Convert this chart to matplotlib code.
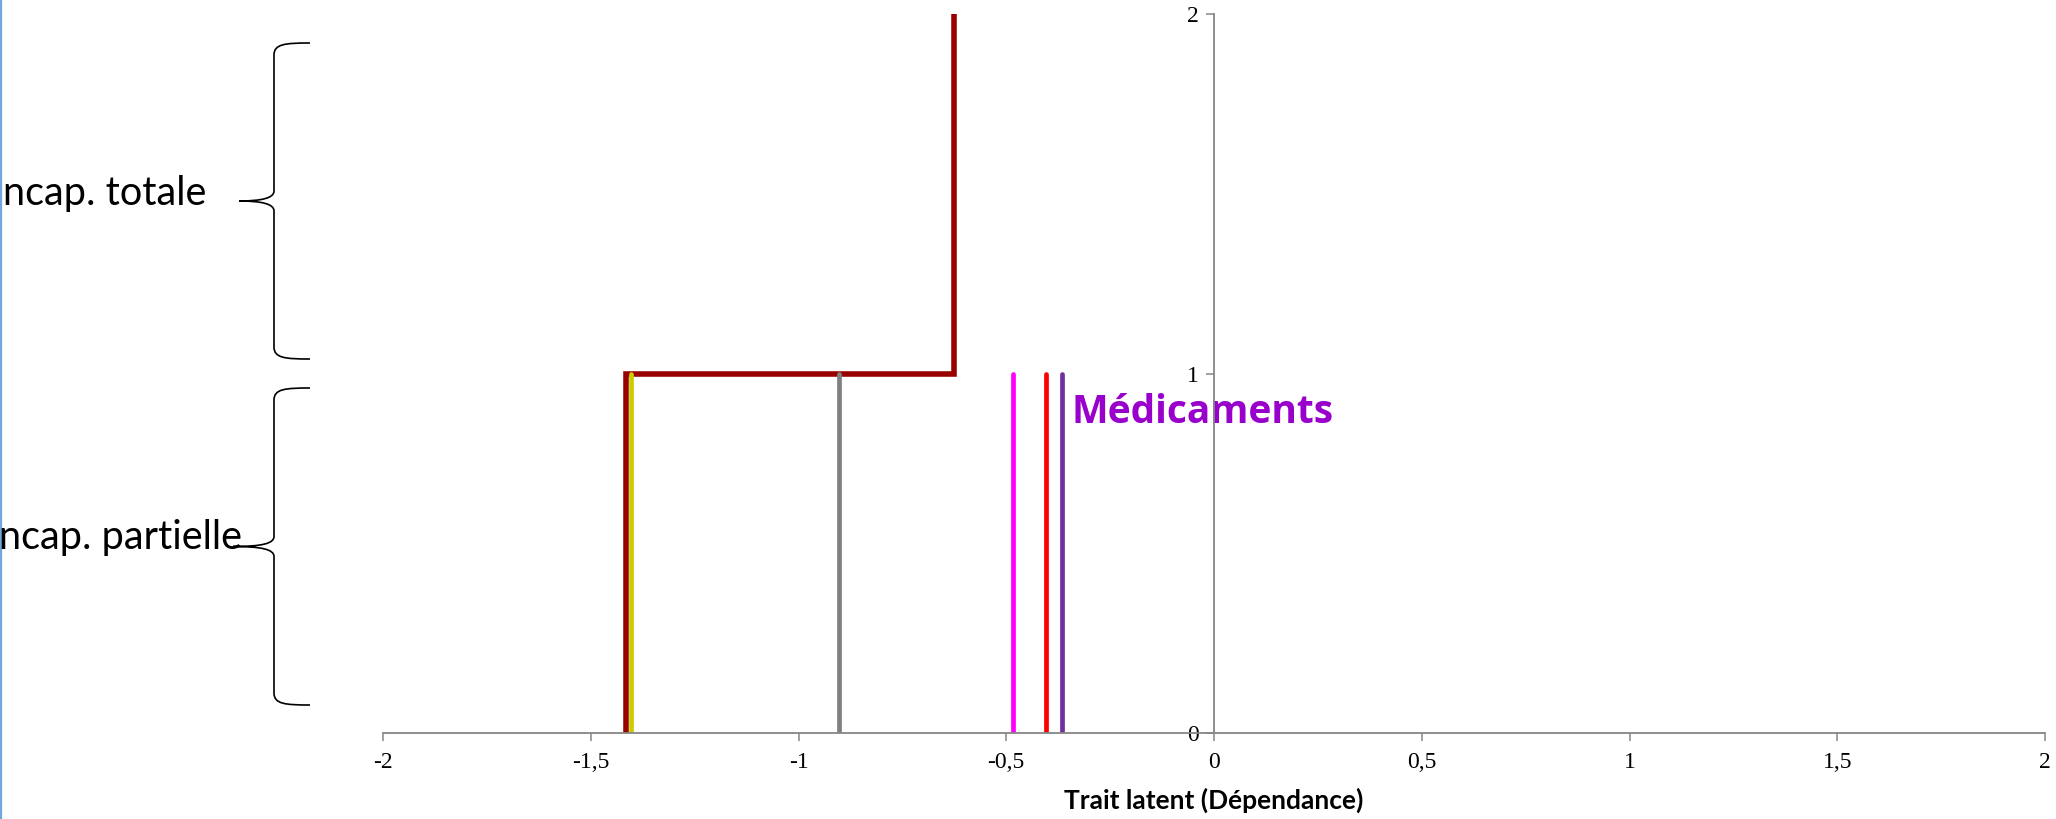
import matplotlib
matplotlib.use("Agg")
import matplotlib.pyplot as plt
from matplotlib.path import Path
from matplotlib.patches import PathPatch

# Step curve of the category thresholds (dark red)
step_x = [-1.414, -1.414, -0.625, -0.625]
step_y = [0, 1, 1, 2]

# Threshold positions of the other items (from 0 to 1)
item_x = [-1.402, -0.902, -0.484, -0.404, -0.365]
item_colors = ["#CCCC00", "#808080", "#FF00FF", "#FF0000", "#7030A0"]
item_top = 1

x_ticks = [-2, -1.5, -1, -0.5, 0, 0.5, 1, 1.5, 2]
x_tick_labels = ["-2", "-1,5", "-1", "-0,5", "0", "0,5", "1", "1,5", "2"]
y_ticks = [0, 1, 2]
y_tick_labels = ["0", "1", "2"]

x_label = "Trait latent (Dépendance)"
highlight_label = "Médicaments"
highlight_pos = (-0.343, 0.862)
group_labels = ["ncap. totale", "ncap. partielle"]

W, H = 2056, 819
fig = plt.figure(figsize=(W / 100, H / 100), dpi=100)

axis_grey = "#868686"
ax = fig.add_axes([383 / W, (H - 733) / H, (2045 - 383) / W, (733 - 14) / H])
ax.set_xlim(-2, 2)
ax.set_ylim(0, 2)
for s in ("top", "right"):
    ax.spines[s].set_visible(False)
ax.spines["left"].set_position(("data", 0))
ax.spines["bottom"].set_position(("data", 0))
for s in ("left", "bottom"):
    ax.spines[s].set_color(axis_grey)
    ax.spines[s].set_linewidth(1.3)
    ax.spines[s].set_zorder(5)

ax.set_xticks(x_ticks)
ax.set_xticklabels(x_tick_labels, family="Liberation Serif", fontsize=17)
ax.set_yticks(y_ticks)
ax.set_yticklabels(y_tick_labels, family="Liberation Serif", fontsize=17)
ax.tick_params(axis="x", direction="out", length=6, width=1.1, color=axis_grey, pad=8)
ax.tick_params(axis="y", direction="out", length=6, width=1.1, color=axis_grey, pad=5)
ax.set_xlabel(x_label, family="Lato", fontweight="bold", fontsize=19, labelpad=10)

ax.plot(step_x, step_y, color="#990000", lw=4.0, solid_joinstyle="miter",
        solid_capstyle="butt", zorder=3, clip_on=False)
for xv, c in zip(item_x, item_colors):
    ax.plot([xv, xv], [0, item_top], color=c, lw=3.4, solid_capstyle="round", zorder=4)

ax.text(highlight_pos[0], highlight_pos[1], highlight_label, color="#9900CC",
        family="Open Sans", fontweight="bold", fontsize=28, va="baseline", ha="left", zorder=1)

# Overlay in pixel coordinates for the side annotations
ov = fig.add_axes([0, 0, 1, 1], zorder=-1)
ov.set_xlim(0, W)
ov.set_ylim(H, 0)
ov.axis("off")
ov.plot([1, 1], [0, H], color="#6FA8DC", lw=1.6)


def brace(x_vert, x_end, x_tip, top, bottom):
    mid = (top + bottom) / 2
    verts = [
        (x_end, top), (x_vert + 11, top), (x_vert, top + 1), (x_vert, top + 12),
        (x_vert, mid - 10),
        (x_vert, mid - 3), (x_vert - 12, mid), (x_tip, mid),
        (x_vert - 12, mid), (x_vert, mid + 3), (x_vert, mid + 10),
        (x_vert, bottom - 12),
        (x_vert, bottom - 1), (x_vert + 11, bottom), (x_end, bottom),
    ]
    codes = [Path.MOVETO, Path.CURVE4, Path.CURVE4, Path.CURVE4,
             Path.LINETO,
             Path.CURVE4, Path.CURVE4, Path.CURVE4,
             Path.CURVE4, Path.CURVE4, Path.CURVE4,
             Path.LINETO,
             Path.CURVE4, Path.CURVE4, Path.CURVE4]
    ov.add_patch(PathPatch(Path(verts, codes), fill=False, lw=1.2, ec="black"))


brace(274, 310, 239, 43, 359)
brace(274, 310, 233, 388, 705)

ov.text(3, 205, group_labels[0], family="Lato", fontsize=28.5, va="baseline", ha="left")
ov.text(-1, 549, group_labels[1], family="Lato", fontsize=28.5, va="baseline", ha="left")

fig.savefig("out.png", dpi=100)
